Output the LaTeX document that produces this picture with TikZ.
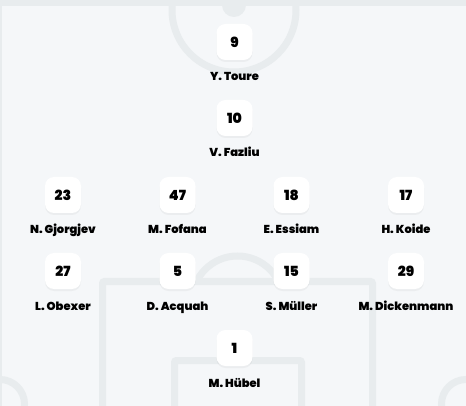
\documentclass[tikz,border=0pt]{standalone}
\usepackage{fontspec}
\setmainfont{Poppins}
\newfontfamily\heavy{Poppins Black}
\usetikzlibrary{shadows}
\definecolor{pitchbg}{HTML}{F5F7F9}
\definecolor{pitchline}{HTML}{E8ECEE}
\definecolor{txt}{HTML}{000000}
\begin{document}
\begin{tikzpicture}[x=1pt,y=-1pt,
  numbox/.style={fill=white, rounded corners=9pt, minimum width=36pt, minimum height=36pt, inner sep=0pt, text=txt,
    font=\heavy\fontsize{14}{14}\selectfont,
    drop shadow={opacity=0.08, shadow xshift=0pt, shadow yshift=-2pt}},
  pname/.style={font=\heavy\fontsize{11.5}{12}\selectfont, inner sep=0pt, text=txt, anchor=base},
  pline/.style={draw=pitchline, line width=7pt}]
\fill[pitchbg] (0,0) rectangle (466,406);
\useasboundingbox (0,0) rectangle (466,406);
\begin{scope}
  \clip (0,0) rectangle (466,406);
  \draw[pline] (234,10) circle (62);
  \fill[pitchline] (0,0) rectangle (466,6);
  \fill[pitchline] (234,5) circle (12);
  \draw[pitchline, line width=1.5pt] (0.75,0) -- (0.75,406);
  \draw[pline, rounded corners=2pt] (102.5,420) -- (102.5,281.5) -- (372.5,281.5) -- (372.5,420);
  \draw[pline, rounded corners=2pt] (174.5,420) -- (174.5,360.5) -- (301.5,360.5) -- (301.5,420);
  \draw[pline] (0,404) circle (24.5);
  \draw[pline] (466,404) circle (24.5);
\end{scope}
\begin{scope}
  \clip (0,0) rectangle (466,281.5);
  \draw[pline] (237.5,301.7) circle (45.7);
\end{scope}
% forwards
\node[numbox] (n9) at (234.5,42) {9};
\node[pname] (l9) at (234.5,81) {Y. Toure};
\node[numbox] (n10) at (234.5,118) {10};
\node[pname] (l10) at (234.5,157) {V. Fazliu};
% midfield
\node[numbox] (n23) at (63,195) {23};
\node[pname] (l23) at (63,234) {N. Gjorgjev};
\node[numbox] (n47) at (177.5,195) {47};
\node[pname] (l47) at (177.5,234) {M. Fofana};
\node[numbox] (n18) at (291.5,195) {18};
\node[pname] (l18) at (291.5,234) {E. Essiam};
\node[numbox] (n17) at (406,195) {17};
\node[pname] (l17) at (406,234) {H. Koide};
% defence
\node[numbox] (n27) at (63,271) {27};
\node[pname] (l27) at (63,310) {L. Obexer};
\node[numbox] (n5) at (177.5,271) {5};
\node[pname] (l5) at (177.5,310) {D. Acquah};
\node[numbox] (n15) at (291.5,271) {15};
\node[pname] (l15) at (291.5,310) {S. Müller};
\node[numbox] (n29) at (406,271) {29};
\node[pname] (l29) at (406,310) {M. Dickenmann};
% goalkeeper
\node[numbox] (n1) at (234.5,348) {1};
\node[pname] (l1) at (234.5,387) {M. Hübel};
\end{tikzpicture}
\end{document}
